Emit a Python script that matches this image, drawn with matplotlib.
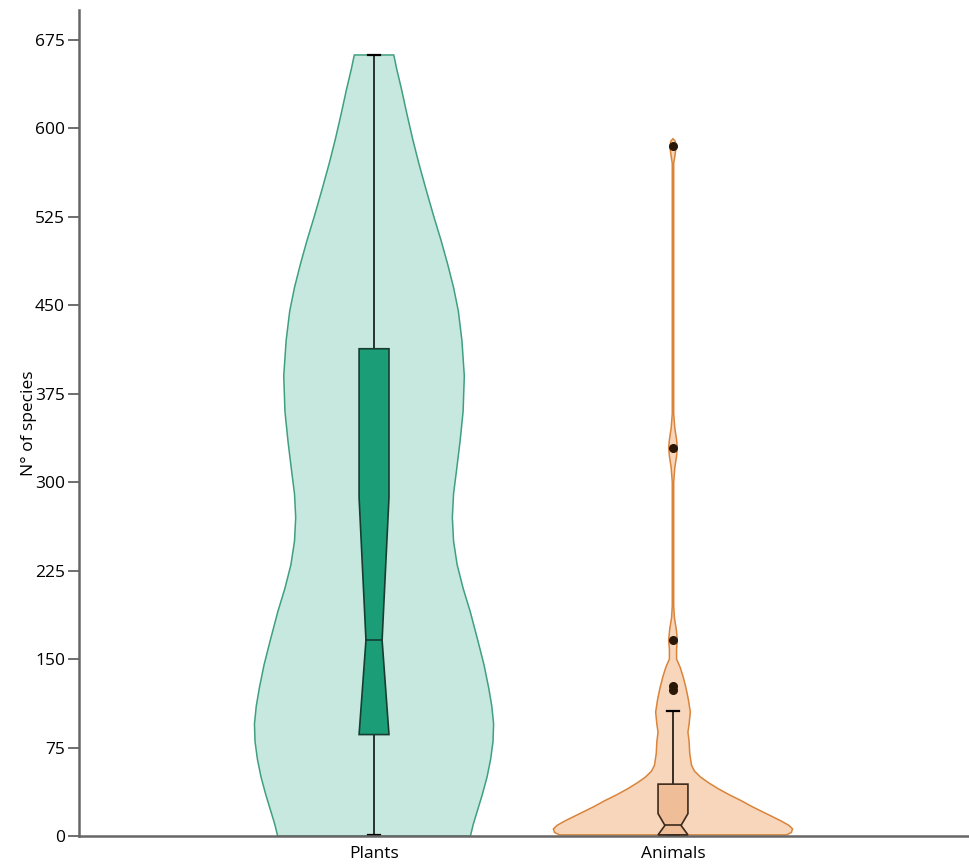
import numpy as np
import matplotlib.pyplot as plt
from matplotlib.patches import Polygon

plt.rcParams['font.family'] = ['Open Sans', 'DejaVu Sans']

groups = ['Plants', 'Animals']

# violin outlines: value -> relative half width (max = 1)
plants_y = [0, 10, 20, 35, 50, 65, 80, 95, 110, 125, 145, 165, 190, 210, 230, 250, 270,
            290, 310, 335, 360, 390, 420, 445, 465, 485, 505, 525, 548, 570, 590, 612,
            632, 650, 662]
plants_w = [0.806, 0.83, 0.86, 0.905, 0.945, 0.975, 0.995, 1.0, 0.985, 0.96, 0.92, 0.87,
            0.805, 0.745, 0.695, 0.665, 0.655, 0.665, 0.69, 0.72, 0.745, 0.755, 0.735,
            0.705, 0.665, 0.615, 0.56, 0.5, 0.435, 0.375, 0.325, 0.275, 0.232, 0.19, 0.165]

animals_y = [1, 3, 6, 9, 13, 17, 21, 25, 30, 35, 40, 45, 50, 55, 60, 70, 80, 88, 95, 105,
             115, 125, 135, 143, 150, 158, 166, 175, 185, 195, 300, 312, 322, 329, 336,
             346, 358, 570, 578, 584, 589, 591]
animals_w = [0.95, 0.99, 1.0, 0.97, 0.9, 0.82, 0.74, 0.66, 0.57, 0.47, 0.38, 0.3, 0.23,
             0.18, 0.155, 0.14, 0.135, 0.125, 0.135, 0.145, 0.13, 0.11, 0.085, 0.06, 0.03,
             0.03, 0.036, 0.028, 0.012, 0.006, 0.006, 0.015, 0.03, 0.036, 0.03, 0.015,
             0.006, 0.006, 0.018, 0.026, 0.018, 0.0]

# box statistics: low whisker, q1, median, upper notch, q3, high whisker
plants_stats = [1, 86, 166, 287, 413, 662]
animals_stats = [1, 1, 9, 19, 44, 106]
animals_outliers = [124, 127, 166, 329, 585]

fill_cols = ['#c6e8df', '#f8d6bc']
edge_cols = ['#3f9f80', '#d9843a']
box_cols = ['#1b9e77', '#efbe98']
box_edges = ['#173d31', '#3d2a1c']

fig = plt.figure(figsize=(9.7, 8.66), dpi=100)
ax = fig.add_axes([0.0814, 0.0346, 0.9166, 0.9537])

half = 0.4
bw, nw, cw = 0.05, 0.027, 0.02


def draw_violin(x, ys, ws, fc, ec):
    ys = np.array(ys)
    ws = np.array(ws) * half
    xs = np.concatenate([x - ws, (x + ws)[::-1]])
    yy = np.concatenate([ys, ys[::-1]])
    ax.add_patch(Polygon(np.column_stack([xs, yy]), closed=True, facecolor=fc,
                         edgecolor=ec, linewidth=1.1, zorder=1))


def draw_box(x, st, fc, ec):
    lo, q1, med, nh, q3, hi = st
    ax.plot([x, x], [lo, q1], color='black', lw=1.1, zorder=2)
    ax.plot([x, x], [q3, hi], color='black', lw=1.1, zorder=2)
    ax.plot([x - cw, x + cw], [lo, lo], color='black', lw=1.6, zorder=2)
    ax.plot([x - cw, x + cw], [hi, hi], color='black', lw=1.6, zorder=2)
    pts = [(x - bw, q1), (x + bw, q1), (x + nw, med), (x + bw, nh), (x + bw, q3),
           (x - bw, q3), (x - bw, nh), (x - nw, med)]
    ax.add_patch(Polygon(pts, closed=True, facecolor=fc, edgecolor=ec,
                         linewidth=1.2, zorder=3))
    ax.plot([x - nw, x + nw], [med, med], color=ec, lw=1.2, zorder=4)


draw_violin(0, plants_y, plants_w, fill_cols[0], edge_cols[0])
draw_violin(1, animals_y, animals_w, fill_cols[1], edge_cols[1])
draw_box(0, plants_stats, box_cols[0], box_edges[0])
draw_box(1, animals_stats, box_cols[1], box_edges[1])
ax.plot([1] * len(animals_outliers), animals_outliers, 'o', color='#2a1708',
        markersize=5.5, zorder=5)

ax.set_xlim(-0.987, 1.987)
ax.set_ylim(0, 700)
ax.set_yticks(np.arange(0, 676, 75))
ax.set_xticks([0, 1])
ax.set_xticklabels(groups)
ax.tick_params(axis='x', length=0, pad=7, labelsize=12.5)
ax.tick_params(axis='y', length=8, width=1.2, color='#555555', pad=2, labelsize=12.5)
ax.set_ylabel('N° of species', fontsize=12.5)
ax.yaxis.set_label_coords(-0.047, 0.5)
for s in ['top', 'right']:
    ax.spines[s].set_visible(False)
for s in ['left', 'bottom']:
    ax.spines[s].set_color('#666666')
    ax.spines[s].set_linewidth(1.8)

fig.savefig('out.png', dpi=100)
